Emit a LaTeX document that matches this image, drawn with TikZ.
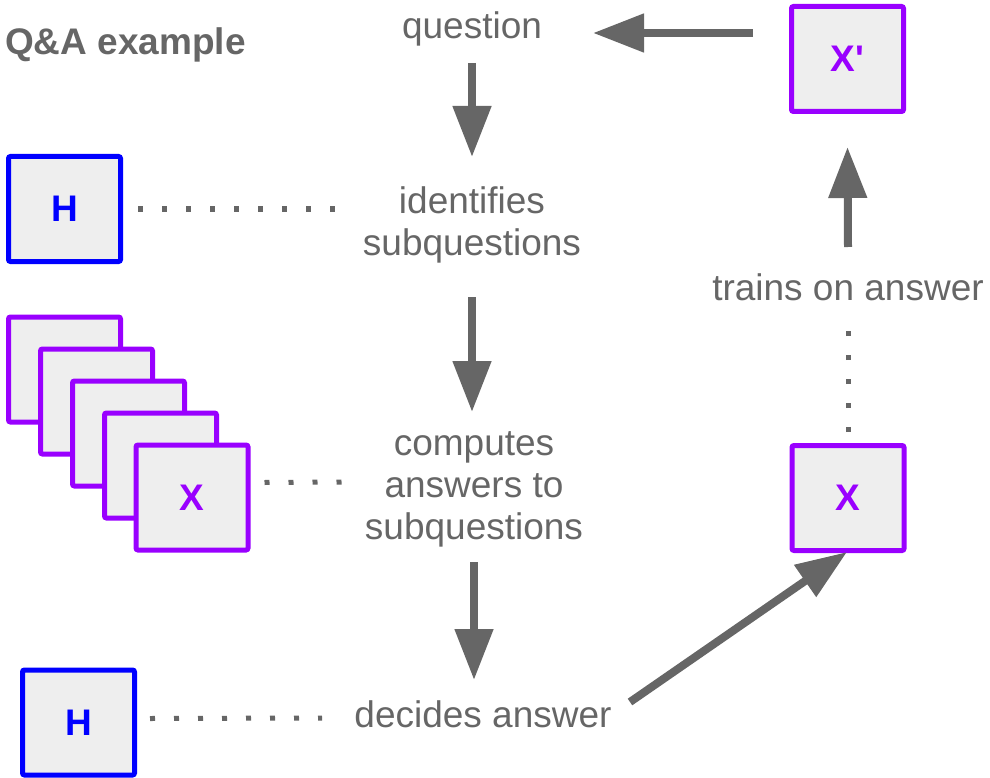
\documentclass[tikz,border=0pt]{standalone}
\usepackage{fontspec}
\setmainfont{Liberation Sans}
\usetikzlibrary{arrows.meta,calc}
\definecolor{txtgray}{HTML}{666666}
\definecolor{hblue}{HTML}{0000FF}
\definecolor{xpurple}{HTML}{9900FF}
\definecolor{boxfill}{HTML}{EEEEEE}
\tikzset{
  agent/.style={draw, line width=5pt, fill=boxfill, rounded corners=2pt,
    minimum width=112pt, minimum height=105pt, inner sep=0pt,
    font=\fontsize{37}{40}\selectfont\bfseries},
  hbox/.style={agent, draw=hblue, text=hblue},
  xbox/.style={agent, draw=xpurple, text=xpurple},
  txt/.style={inner sep=0pt, text=txtgray, align=center,
    font=\fontsize{37}{42}\selectfont},
  bigarrow/.style={draw=txtgray, line width=8pt,
    -{Triangle[length=51pt,width=37pt]}},
  dotline/.style={draw=txtgray, line width=5pt, dash pattern=on 5pt off 19pt}
}
\begin{document}
\begin{tikzpicture}[x=1pt,y=1pt,yscale=-1]
\path[use as bounding box] (0,0) rectangle (990,778);

% title
\node[inner sep=0pt, anchor=base west, text=txtgray,
  font=\fontsize{37}{40}\selectfont\bfseries] (title) at (5,55) {Q\&A example};

% text nodes (base anchor = baseline of the last line)
\node[txt, anchor=base] (q) at (472,39) {question};
\node[txt, anchor=base] (id) at (472,255) {identifies\\subquestions};
\node[txt, anchor=base] (cp) at (474,539) {computes\\answers to\\subquestions};
\node[txt, anchor=base] (dec) at (483,727) {decides answer};
\node[txt, anchor=base] (tr) at (848,300) {trains on answer};

% boxes
\node[hbox] (H1) at (64.5,209) {H};
\node[xbox] (X1) at (64.5,369.5) {};
\node[xbox] (X2) at (96.5,401.5) {};
\node[xbox] (X3) at (128.5,433.5) {};
\node[xbox] (X4) at (160.5,465.5) {};
\node[xbox] (X5) at (192,497.5) {X};
\node[hbox] (H2) at (78.5,722.5) {H};
\node[xbox] (Xr) at (848,498) {X};
\node[xbox] (Xp) at (847.5,59) {X\textquotesingle};

% arrows
\draw[bigarrow] ($(q.base)+(0,24)$) -- ($(id.base)+(0,-98)$);
\draw[bigarrow] ($(id.base)+(0,42)$) -- ($(cp.base)+(-2,-127)$);
\draw[bigarrow] ($(cp.base)+(0,23)$) -- ($(dec.base)+(-9,-47)$);
\draw[bigarrow] ($(Xp.west)+(-36,-26)$) -- ($(q.base)+(121,-6)$);
\draw[bigarrow] ($(tr.base)+(0,-53)$) -- ($(Xp.south)+(0,33)$);
\draw[bigarrow] ($(dec.base)+(147,-25)$) -- ($(Xr.south)+(-1,-1)$);

% dotted links
\draw[dotline] ($(H1.east)+(15,0)$) -- ($(id.base)+(-137,-46)$);
\draw[dotline] ($(X5.east)+(14,-15)$) -- ($(cp.base)+(-130,-57)$);
\draw[dotline] ($(H2.east)+(13,-4)$) -- ($(dec.base)+(-161,-9)$);
\draw[dotline] ($(Xr.north)+(0,-11)$) -- ($(tr.base)+(0,25)$);
\end{tikzpicture}
\end{document}
